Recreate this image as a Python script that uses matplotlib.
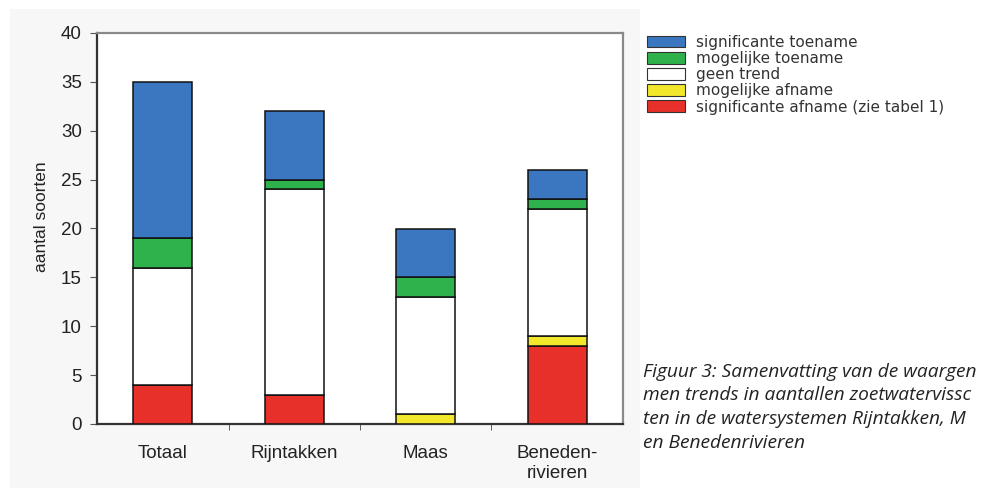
import matplotlib
matplotlib.use("Agg")
import matplotlib.pyplot as plt
from matplotlib.patches import Rectangle, Patch
import numpy as np

categories = ["Totaal", "Rijntakken", "Maas", "Beneden-\nrivieren"]
series_names = ["significante toename", "mogelijke toename", "geen trend",
                "mogelijke afname", "significante afname (zie tabel 1)"]
sig_afname = [4, 3, 0, 8]
mog_afname = [0, 0, 1, 1]
geen_trend = [12, 21, 12, 13]
mog_toename = [3, 1, 2, 1]
sig_toename = [16, 7, 5, 3]
y_ticks = [0, 5, 10, 15, 20, 25, 30, 35, 40]
# caption as visible in the reference (cut off by the page edge)
caption = ["Figuur 3: Samenvatting van de waargen",
           "men trends in aantallen zoetwatervissc",
           "ten in de watersystemen Rijntakken, M",
           "en Benedenrivieren"]

colors = {"sig_t": "#3a77c0", "mog_t": "#2fb24b", "geen": "#ffffff",
          "mog_a": "#f3e72b", "sig_a": "#e8302a"}

W, H = 984, 488
fig = plt.figure(figsize=(W / 100, H / 100), dpi=100)
fig.patch.set_facecolor("white")
# embedded picture background
bg = Rectangle((10 / W, 0), 630 / W, (H - 9) / H, transform=fig.transFigure,
               facecolor="#f7f7f7", edgecolor="none", zorder=-10)
fig.add_artist(bg)

ax = fig.add_axes([97 / W, (H - 424) / H, (623 - 97) / W, (424 - 33) / H])
ax.set_zorder(1)
ax.set_facecolor("white")
x = np.arange(len(categories))
bw = 0.45
stack = [(sig_afname, "sig_a"), (mog_afname, "mog_a"), (geen_trend, "geen"),
         (mog_toename, "mog_t"), (sig_toename, "sig_t")]
bottom = np.zeros(len(categories))
for vals, key in stack:
    v = np.array(vals, dtype=float)
    ax.bar(x, v, bw, bottom=bottom, color=colors[key], edgecolor="#111111",
           linewidth=1.1, zorder=3)
    bottom += v

tick_font = {"family": "Liberation Sans", "size": 13.5}
ax.set_xlim(-0.5, 3.5)
ax.set_ylim(0, 40)
ax.set_yticks(y_ticks)
ax.set_yticklabels([str(t) for t in y_ticks], **tick_font)
ax.set_xticks(x)
ax.set_xticklabels(categories, linespacing=1.25, **tick_font)
ax.tick_params(axis="x", length=0, pad=15, colors="#222222")
ax.set_xticks([0.5, 1.5, 2.5], minor=True)
ax.tick_params(axis="x", which="minor", length=4, direction="out", color="#444444")
ax.tick_params(axis="y", length=5, direction="out", color="#555555", pad=6,
               labelcolor="#222222")
ax.set_ylabel("aantal soorten", family="Liberation Sans", size=12.5,
              color="#222222")
ax.yaxis.set_label_coords(-0.092, 0.53)

for s in ["left", "bottom"]:
    ax.spines[s].set_color("#333333")
    ax.spines[s].set_linewidth(1.6)
for s in ["top", "right"]:
    ax.spines[s].set_color("#8a8a8a")
    ax.spines[s].set_linewidth(1.6)

handles = [Patch(facecolor=colors[k], edgecolor="#333333", linewidth=0.8)
           for k in ["sig_t", "mog_t", "geen", "mog_a", "sig_a"]]
fig.legend(handles, series_names, loc="upper left",
           bbox_to_anchor=(633 / W, (H - 21) / H), frameon=False,
           prop={"family": "DejaVu Sans", "size": 11}, labelcolor="#333333",
           handlelength=2.5, handleheight=0.8, labelspacing=0.08, handletextpad=0.75)

for i, line in enumerate(caption):
    fig.text(643 / W, (H - 372 - i * 23.5) / H, line, fontsize=13.8, style="italic",
             family="Open Sans", color="#222222", va="center", ha="left")

fig.savefig("out.png", dpi=100, facecolor="white")
